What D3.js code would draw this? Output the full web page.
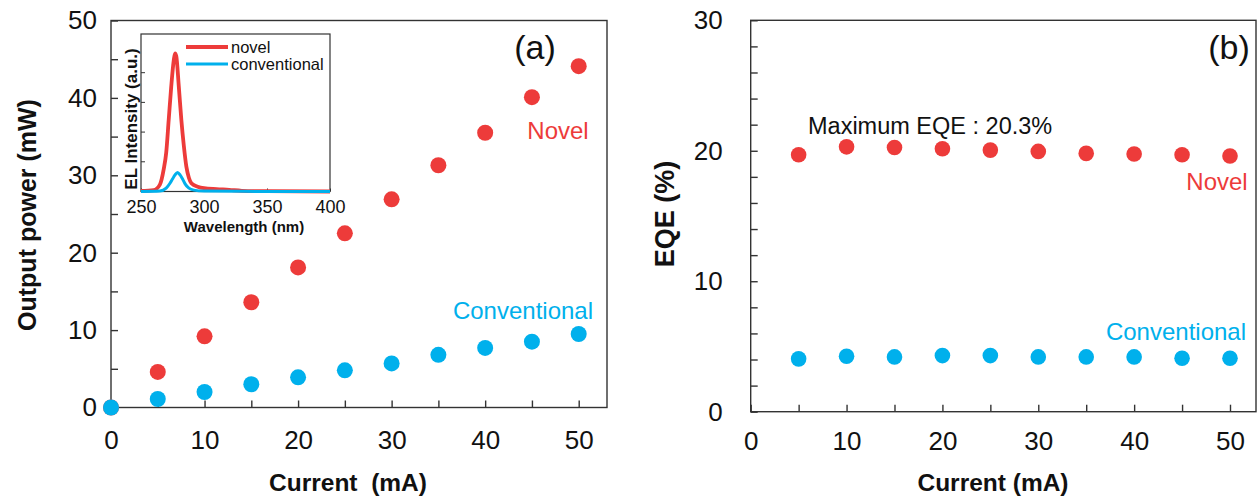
<!DOCTYPE html>
<html>
<head>
<meta charset="utf-8">
<script src="https://cdn.jsdelivr.net/npm/d3@7"></script>
<style>
  html, body { margin: 0; padding: 0; background: #fff; }
  svg { display: block; font-family: "Liberation Sans", Arial, sans-serif; }
</style>
</head>
<body>
<svg id="chart" width="1258" height="499"></svg>
<script>
// Drive current (mA)
const currentA = [0, 5, 10, 15, 20, 25, 30, 35, 40, 45, 50];
// Output power (mW)
const powerNovel = [0, 4.6, 9.2, 13.6, 18.1, 22.5, 26.9, 31.3, 35.5, 40.1, 44.1];
const powerConventional = [0, 1.1, 2.0, 3.0, 3.9, 4.8, 5.7, 6.8, 7.7, 8.5, 9.5];

// EQE (%)
const currentB = [5, 10, 15, 20, 25, 30, 35, 40, 45, 50];
const eqeNovel = [19.7, 20.3, 20.25, 20.15, 20.05, 19.95, 19.8, 19.75, 19.7, 19.6];
const eqeConventional = [4.05, 4.25, 4.2, 4.3, 4.3, 4.2, 4.2, 4.2, 4.1, 4.1];

// EL spectra (normalised intensity, a.u.)
const wlNovel = [250, 260, 265, 268, 270, 272, 274, 276, 277, 278, 280, 282, 284, 286, 288, 290, 295, 300, 310, 320, 330, 350, 400];
const elNovel = [0.004, 0.01, 0.05, 0.16, 0.28, 0.52, 0.76, 0.95, 1.0, 0.98, 0.76, 0.52, 0.33, 0.18, 0.10, 0.06, 0.035, 0.024, 0.017, 0.012, 0.005, 0.002, 0.0];
const wlConventional = [250, 265, 270, 273, 275, 277, 279, 281, 283, 285, 288, 292, 300, 330, 400];
const elConventional = [0.0, 0.003, 0.024, 0.06, 0.09, 0.12, 0.137, 0.12, 0.09, 0.055, 0.024, 0.01, 0.003, 0.001, 0.0];

// Axis ticks
const ticksA_y = [0, 10, 20, 30, 40, 50];
const ticksA_x = [0, 10, 20, 30, 40, 50];
const ticksB_y = [0, 10, 20, 30];
const ticksB_x = [0, 10, 20, 30, 40, 50];
const ticksInset_x = [250, 300, 350, 400];

const RED = "#ed3b3a";
const CYAN = "#00b0ec";
const FRAME = "#333";

const svg = d3.select("#chart");
svg.append("rect").attr("width", 1258).attr("height", 499).attr("fill", "#fff");

function frameAxes(g, x, y, opts) {
  const [x0, x1] = opts.xRange;
  const [y0, y1] = opts.yRange;
  g.append("rect")
    .attr("x", x0).attr("y", y1)
    .attr("width", x1 - x0).attr("height", y0 - y1)
    .attr("fill", "none").attr("stroke", FRAME).attr("stroke-width", opts.frameWidth || 1.4);

  const xa = d3.axisBottom(x)
    .tickValues(opts.xMinor)
    .tickSize(-opts.tick)
    .tickPadding(opts.xPad)
    .tickFormat(d => opts.xLabels.includes(d) ? d : "");
  const gx = g.append("g").attr("transform", `translate(0,${y0})`).call(xa);
  gx.select(".domain").remove();

  const ya = d3.axisLeft(y)
    .tickValues(opts.yMinor)
    .tickSize(-opts.tick)
    .tickPadding(opts.yPad)
    .tickFormat(d => opts.yLabels.includes(d) ? d : "");
  const gy = g.append("g").attr("transform", `translate(${x0},0)`).call(ya);
  gy.select(".domain").remove();

  [gx, gy].forEach(a => {
    a.selectAll("line").attr("stroke", FRAME).attr("stroke-width", opts.tickWidth || 1.4);
    a.selectAll("text")
      .attr("font-family", "'Liberation Sans', Arial, sans-serif")
      .attr("font-size", opts.fontSize).attr("fill", "#111");
  });
  return { gx, gy };
}

// ---------- Panel (a): output power ----------
const gA = svg.append("g");
const xA = d3.scaleLinear().domain([0, 50]).range([111, 578.7]);
const yA = d3.scaleLinear().domain([0, 50]).range([407.5, 20.5]);
frameAxes(gA, xA, yA, {
  xRange: [111, 607], yRange: [407.5, 20.5],
  xMinor: d3.range(0, 51, 5), xLabels: ticksA_x,
  yMinor: d3.range(0, 51, 5), yLabels: ticksA_y,
  tick: 7, xPad: 23, yPad: 14, fontSize: 26
});

gA.append("g").selectAll("circle").data(currentA.map((c, i) => [c, powerNovel[i]]))
  .join("circle").attr("cx", d => xA(d[0])).attr("cy", d => yA(d[1])).attr("r", 8).attr("fill", RED);
gA.append("g").selectAll("circle").data(currentA.map((c, i) => [c, powerConventional[i]]))
  .join("circle").attr("cx", d => xA(d[0])).attr("cy", d => yA(d[1])).attr("r", 8).attr("fill", CYAN);

gA.append("text").attr("x", 535).attr("y", 59).attr("text-anchor", "middle")
  .attr("font-size", 34).attr("fill", "#111").text("(a)");
gA.append("text").attr("x", 558).attr("y", 139).attr("text-anchor", "middle")
  .attr("font-size", 24).attr("fill", RED).text("Novel");
gA.append("text").attr("x", 523).attr("y", 319).attr("text-anchor", "middle")
  .attr("font-size", 24).attr("fill", CYAN).text("Conventional");

gA.append("text").attr("transform", "translate(36,215) rotate(-90)").attr("text-anchor", "middle")
  .attr("font-size", 25).attr("font-weight", "bold").attr("fill", "#111").text("Output power (mW)");
gA.append("text").attr("x", 348).attr("y", 491).attr("text-anchor", "middle")
  .attr("font-size", 24.5).attr("font-weight", "bold").attr("fill", "#111")
  .attr("xml:space", "preserve").style("white-space", "pre").text("Current  (mA)");

// ---------- Inset: EL spectra ----------
const gI = gA.append("g");
const xI = d3.scaleLinear().domain([250, 400]).range([141, 330]);
const yI = d3.scaleLinear().domain([0, 1.14]).range([191.5, 34]);
gI.append("rect").attr("x", 141).attr("y", 34).attr("width", 189).attr("height", 157.5)
  .attr("fill", "#fff").attr("stroke", FRAME).attr("stroke-width", 1.2);
// inner ticks on the intensity axis
gI.append("g").selectAll("line").data([0.25, 0.5, 0.75, 1.0])
  .join("line").attr("x1", 141).attr("x2", 145)
  .attr("y1", d => yI(d * 0.86)).attr("y2", d => yI(d * 0.86))
  .attr("stroke", FRAME).attr("stroke-width", 1);
const xaI = d3.axisBottom(xI).tickValues(ticksInset_x).tickSize(-3).tickPadding(9);
const gxI = gI.append("g").attr("transform", "translate(0,191.5)").call(xaI);
gxI.select(".domain").remove();
gxI.selectAll("line").attr("stroke", FRAME);
gxI.selectAll("text").attr("font-size", 18).attr("fill", "#111")
  .attr("font-family", "'Liberation Sans', Arial, sans-serif");

const lineI = (wl, el) => d3.line().curve(d3.curveMonotoneX)
  .x((d, i) => xI(wl[i])).y((d, i) => yI(el[i]))(el);
gI.append("path").attr("d", lineI(wlNovel, elNovel))
  .attr("fill", "none").attr("stroke", RED).attr("stroke-width", 3.8).attr("stroke-linejoin", "round");
gI.append("path").attr("d", lineI(wlConventional, elConventional))
  .attr("fill", "none").attr("stroke", CYAN).attr("stroke-width", 3).attr("stroke-linejoin", "round");

// inset legend
gI.append("line").attr("x1", 186).attr("x2", 228).attr("y1", 47).attr("y2", 47)
  .attr("stroke", RED).attr("stroke-width", 3.8);
gI.append("text").attr("x", 231).attr("y", 53).attr("font-size", 16.5).attr("fill", "#111").text("novel");
gI.append("line").attr("x1", 186).attr("x2", 228).attr("y1", 64).attr("y2", 64)
  .attr("stroke", CYAN).attr("stroke-width", 3);
gI.append("text").attr("x", 231).attr("y", 70).attr("font-size", 16.5).attr("fill", "#111").text("conventional");

gI.append("text").attr("transform", "translate(137,119) rotate(-90)").attr("text-anchor", "middle")
  .attr("font-size", 17).attr("font-weight", "bold").attr("fill", "#111").text("EL Intensity (a.u.)");
gI.append("text").attr("x", 244).attr("y", 232).attr("text-anchor", "middle")
  .attr("font-size", 15).attr("font-weight", "bold").attr("fill", "#111").text("Wavelength (nm)");

// ---------- Panel (b): EQE ----------
const gB = svg.append("g");
const xB = d3.scaleLinear().domain([0, 50]).range([750.7, 1230]);
const yB = d3.scaleLinear().domain([0, 30]).range([411.7, 20.3]);
frameAxes(gB, xB, yB, {
  xRange: [750.7, 1256], yRange: [411.7, 20.3],
  xMinor: d3.range(0, 51, 5), xLabels: ticksB_x,
  yMinor: d3.range(0, 31, 2), yLabels: ticksB_y,
  tick: 7, xPad: 20, yPad: 28, fontSize: 26
});

gB.append("g").selectAll("circle").data(currentB.map((c, i) => [c, eqeNovel[i]]))
  .join("circle").attr("cx", d => xB(d[0])).attr("cy", d => yB(d[1])).attr("r", 7.8).attr("fill", RED);
gB.append("g").selectAll("circle").data(currentB.map((c, i) => [c, eqeConventional[i]]))
  .join("circle").attr("cx", d => xB(d[0])).attr("cy", d => yB(d[1])).attr("r", 7.8).attr("fill", CYAN);

gB.append("text").attr("x", 1229).attr("y", 59).attr("text-anchor", "middle")
  .attr("font-size", 34).attr("fill", "#111").text("(b)");
gB.append("text").attr("x", 808).attr("y", 134)
  .attr("font-size", 23.5).attr("fill", "#111").text("Maximum EQE : " + d3.max(eqeNovel).toFixed(1) + "%");
gB.append("text").attr("x", 1217).attr("y", 190).attr("text-anchor", "middle")
  .attr("font-size", 24).attr("fill", RED).text("Novel");
gB.append("text").attr("x", 1176).attr("y", 340).attr("text-anchor", "middle")
  .attr("font-size", 24).attr("fill", CYAN).text("Conventional");

gB.append("text").attr("transform", "translate(674,214) rotate(-90)").attr("text-anchor", "middle")
  .attr("font-size", 27).attr("font-weight", "bold").attr("fill", "#111").text("EQE (%)");
gB.append("text").attr("x", 993).attr("y", 491).attr("text-anchor", "middle")
  .attr("font-size", 24.5).attr("font-weight", "bold").attr("fill", "#111").text("Current (mA)");
</script>
</body>
</html>
